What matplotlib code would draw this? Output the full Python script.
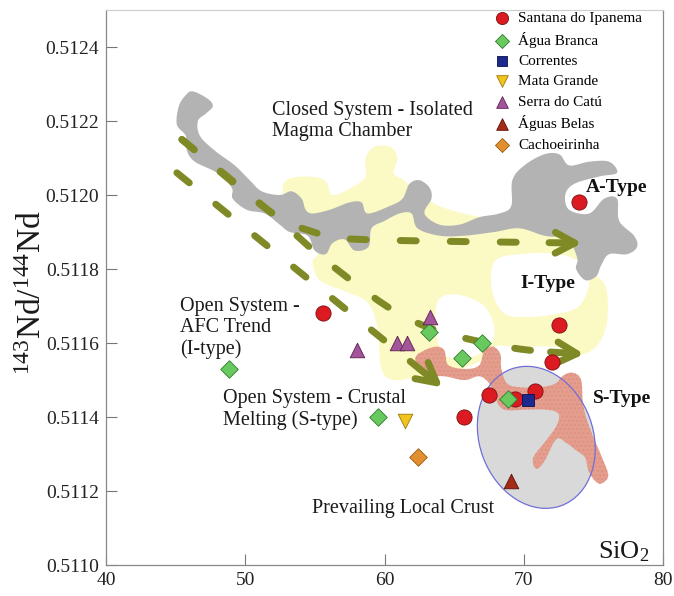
import numpy as np
import matplotlib
matplotlib.use("Agg")
import matplotlib.pyplot as plt
from matplotlib.patches import Polygon, Ellipse

plt.rcParams["font.family"] = ["Liberation Serif", "DejaVu Serif"]
plt.rcParams["mathtext.fontset"] = "custom"
plt.rcParams["mathtext.rm"] = "Liberation Serif"
plt.rcParams["mathtext.it"] = "Liberation Serif:italic"

# --- samples: SiO2 (wt%) vs 143Nd/144Nd ---
santana_sio2 = [55.6, 65.7, 67.5, 69.4, 70.8, 72.0, 72.5, 74.0]
santana_nd = [0.51168, 0.51140, 0.51146, 0.51145, 0.51147, 0.51155, 0.51165, 0.51198]
agua_branca_sio2 = [48.8, 59.5, 63.2, 65.6, 67.0, 68.9]
agua_branca_nd = [0.51153, 0.51140, 0.51163, 0.51156, 0.51160, 0.51145]
correntes_sio2 = [70.3]
correntes_nd = [0.511446]
mata_grande_sio2 = [61.5]
mata_grande_nd = [0.511389]
serra_catu_sio2 = [58.0, 60.9, 61.6, 63.3]
serra_catu_nd = [0.51158, 0.51160, 0.51160, 0.51167]
aguas_belas_sio2 = [69.1]
aguas_belas_nd = [0.511227]
cachoeirinha_sio2 = [62.4]
cachoeirinha_nd = [0.511292]

xticks = [40, 50, 60, 70, 80]
yticks = [0.5110, 0.5112, 0.5114, 0.5116, 0.5118, 0.5120, 0.5122, 0.5124]

# --- field outlines (SiO2, Nd) ---
gray_x = [46.24, 47.31, 47.67, 47.17, 46.60, 46.74, 47.81, 49.25, 50.32, 51.18,
          52.47, 53.33, 54.05, 54.34, 54.84, 56.06, 57.49, 58.35, 58.78, 60.36,
          61.29, 61.79, 62.51, 63.23, 63.37, 62.87, 63.94, 65.38, 66.81, 68.24,
          69.10, 69.18, 70.04, 71.47, 72.55, 73.26, 74.70, 76.13, 76.70, 75.41,
          73.62, 72.98, 73.26, 74.70, 75.77, 76.70, 76.85, 77.92, 78.14, 77.42,
          76.13, 75.56, 75.20, 74.41, 73.76, 73.84, 73.12, 71.47, 69.68, 67.89,
          65.74, 63.94, 62.37, 61.94, 61.08, 60.00, 59.07, 58.85, 57.85, 57.13,
          56.27, 55.77, 54.98, 54.48, 53.19, 52.47, 51.40, 50.11, 49.10, 49.03,
          47.96, 46.38, 45.81, 45.73, 45.09, 45.23, 45.73]
gray_y = [0.51228, 0.51226, 0.51224, 0.51222, 0.51220, 0.51216, 0.51212, 0.51208, 0.51204, 0.51201,
          0.51200, 0.51201, 0.51199, 0.51196, 0.51195, 0.51196, 0.51198, 0.51198, 0.51195, 0.51197,
          0.51199, 0.51203, 0.51204, 0.51202, 0.51199, 0.51195, 0.51192, 0.51192, 0.51194, 0.51195,
          0.51197, 0.51204, 0.51208, 0.51211, 0.51211, 0.51208, 0.51209, 0.51209, 0.51206, 0.51205,
          0.51203, 0.51200, 0.51196, 0.51195, 0.51199, 0.51199, 0.51193, 0.51189, 0.51186, 0.51184,
          0.51184, 0.51181, 0.51178, 0.51177, 0.51180, 0.51183, 0.51188, 0.51189, 0.51191, 0.51190,
          0.51189, 0.51189, 0.51191, 0.51195, 0.51195, 0.51193, 0.51191, 0.51186, 0.51185, 0.51188,
          0.51187, 0.51184, 0.51185, 0.51189, 0.51190, 0.51192, 0.51195, 0.51196, 0.51199, 0.51202,
          0.51206, 0.51209, 0.51212, 0.51216, 0.51219, 0.51224, 0.51227]

yellow_x = [52.97, 54.27, 55.70, 56.27, 57.63, 58.64, 58.64, 59.28, 60.43, 60.93,
            60.65, 61.36, 63.94, 68.24, 72.55, 74.34, 75.05, 75.91, 75.99, 75.41,
            74.34, 73.12, 72.19, 69.68, 67.89, 66.81, 65.38, 63.94, 62.51, 60.72,
            59.78, 59.50, 58.78, 57.13, 55.34, 54.84, 55.20, 53.91, 53.05, 52.69]
yellow_y = [0.51204, 0.51205, 0.51204, 0.51200, 0.51202, 0.51205, 0.51210, 0.51213, 0.51213, 0.51210,
            0.51206, 0.51204, 0.51197, 0.51193, 0.51190, 0.51185, 0.51179, 0.51175, 0.51166, 0.51160,
            0.51157, 0.51158, 0.51159, 0.51159, 0.51159, 0.51155, 0.51153, 0.51152, 0.51151, 0.51150,
            0.51153, 0.51164, 0.51171, 0.51174, 0.51177, 0.51182, 0.51185, 0.51195, 0.51197, 0.51201]

gap_itype_x = [67.89, 69.68, 72.55, 74.34, 74.70, 73.98, 72.55, 70.39, 68.60, 67.74]
gap_itype_y = [0.51182, 0.51184, 0.51184, 0.51181, 0.51176, 0.51170, 0.51168, 0.51167, 0.51168, 0.51174]
gap_mid_x = [63.94, 65.38, 67.17, 67.89, 67.53, 66.09, 64.66, 63.94, 63.66]
gap_mid_y = [0.51172, 0.51173, 0.51170, 0.51164, 0.51159, 0.51156, 0.51156, 0.51159, 0.51166]

stype_x = [62.22, 62.87, 63.73, 64.30, 64.59, 65.88, 66.81, 67.17, 67.81, 68.32,
           68.39, 68.82, 69.82, 71.11, 72.26, 72.76, 73.48, 74.12, 74.27, 74.84,
           75.63, 76.06, 75.41, 74.70, 74.41, 73.76, 73.05, 72.33, 71.47, 70.90,
           70.68, 71.68, 72.40, 72.47, 71.54, 70.18, 68.60, 67.96, 67.53, 66.81,
           65.74, 64.30, 63.23, 62.51]
stype_y = [0.51156, 0.51158, 0.51159, 0.51158, 0.51154, 0.51153, 0.51154, 0.51158, 0.51159, 0.51157,
           0.51153, 0.51149, 0.51148, 0.51148, 0.51149, 0.51151, 0.51152, 0.51150, 0.51143, 0.51136,
           0.51129, 0.51124, 0.51122, 0.51125, 0.51129, 0.51131, 0.51133, 0.51134, 0.51128, 0.51126,
           0.51129, 0.51134, 0.51138, 0.51141, 0.51142, 0.51142, 0.51142, 0.51145, 0.51149, 0.51151,
           0.51150, 0.51151, 0.51151, 0.51152]

crust_center = (70.9, 0.511345)

# --- evolution trends ---
closed_x = [45.45, 51.61, 54.91, 58.21, 74.19]
closed_y = [0.51215, 0.51196, 0.51190, 0.51188, 0.51187]
afc_x = [45.09, 64.16]
afc_y = [0.51206, 0.51148]
melting_x = [45.45, 51.61, 56.20, 62.01, 68.67, 74.34]
melting_y = [0.51215, 0.51196, 0.51181, 0.51166, 0.51159, 0.51157]

OLIVE = "#7f8a26"


def catmull(xs, ys, closed=True, n=12):
    p = np.column_stack([xs, ys]).astype(float)
    if closed:
        p = np.vstack([p[-1], p, p[0], p[1]])
    else:
        p = np.vstack([p[0], p, p[-1]])
    t = np.linspace(0, 1, n, endpoint=False)[:, None]
    out = []
    for i in range(1, len(p) - 2):
        p0, p1, p2, p3 = p[i - 1], p[i], p[i + 1], p[i + 2]
        out.append(0.5 * (2 * p1 + (-p0 + p2) * t
                          + (2 * p0 - 5 * p1 + 4 * p2 - p3) * t ** 2
                          + (-p0 + 3 * p1 - 3 * p2 + p3) * t ** 3))
    if not closed:
        out.append(p[-2][None])
    return np.vstack(out)


fig = plt.figure(figsize=(6.74, 5.96), dpi=100)
ax = fig.add_axes([106 / 674, 31 / 596, 557 / 674, 555 / 596])
ax.set_xlim(40, 80)
ax.set_ylim(0.5110, 0.5125)

# fields
ax.add_patch(Polygon(catmull(yellow_x, yellow_y), closed=True, fc="#fbf9c4", ec="none", zorder=1))
for gx, gy in [(gap_itype_x, gap_itype_y), (gap_mid_x, gap_mid_y)]:
    ax.add_patch(Polygon(catmull(gx, gy), closed=True, fc="white", ec="none", zorder=1.5))
ax.add_patch(Polygon(catmull(gray_x, gray_y), closed=True, fc="#b3b3b3", ec="none", zorder=2))

# prevailing local crust ellipse (axes fraction keeps it round on screen)
cx, cy = ax.transAxes.inverted().transform(ax.transData.transform(crust_center))
ell = dict(xy=(cx, cy), width=0.262, height=0.204, angle=110, transform=ax.transAxes)
ax.add_patch(Ellipse(fc="#d9d9d9", ec="none", zorder=2.5, **ell))
ax.add_patch(Polygon(catmull(stype_x, stype_y), closed=True, fc="#e59e8d", ec="#db9282",
                     lw=0, hatch="....", zorder=3))
ax.add_patch(Ellipse(fc="none", ec="#6f6fd8", lw=0.9, zorder=3.2, **ell))

# dashed trend arrows
for tx, ty, curved in [(closed_x, closed_y, True), (afc_x, afc_y, False),
                       (melting_x, melting_y, True)]:
    if curved:
        path = catmull(tx, ty, closed=False, n=30)
    else:
        s = np.linspace(0, 1, 60)[:, None]
        a, b = np.array([tx[0], ty[0]]), np.array([tx[1], ty[1]])
        path = a + s * (b - a)
    disp = ax.transData.transform(path)
    seg = np.hypot(*np.diff(disp, axis=0).T)
    back = np.cumsum(seg[::-1])
    k = len(path) - 1 - np.searchsorted(back, 34)
    ax.plot(path[:k + 1, 0], path[:k + 1, 1], color=OLIVE, lw=5,
            ls=(0, (2.3, 4.9)), dash_capstyle="round", zorder=4)
    ax.annotate("", xy=path[-1], xytext=path[k],
                arrowprops=dict(arrowstyle="->,head_length=1.4,head_width=0.75",
                                color=OLIVE, lw=5, shrinkA=0, shrinkB=0,
                                capstyle="round", joinstyle="round"),
                zorder=4)

# samples
mk = dict(linewidths=0.6, zorder=6)
ax.scatter(santana_sio2, santana_nd, s=120, marker="o", c="#dc1a22", edgecolors="#7a1010",
           label="Santana do Ipanema", **mk)
ax.scatter(agua_branca_sio2, agua_branca_nd, s=80, marker="D", c="#67c95e", edgecolors="#2f7a2f",
           label="Água Branca", **mk)
ax.scatter(correntes_sio2, correntes_nd, s=80, marker="s", c="#1c2a8e", edgecolors="#0a1050",
           label="Correntes", **mk)
ax.scatter(mata_grande_sio2, mata_grande_nd, s=110, marker="v", c="#f2c31a", edgecolors="#9a7a10",
           label="Mata Grande", **mk)
ax.scatter(serra_catu_sio2, serra_catu_nd, s=110, marker="^", c="#a3559a", edgecolors="#5a2050",
           label="Serra do Catú", **mk)
ax.scatter(aguas_belas_sio2, aguas_belas_nd, s=110, marker="^", c="#a32b18", edgecolors="#5a1008",
           label="Águas Belas", **mk)
ax.scatter(cachoeirinha_sio2, cachoeirinha_nd, s=80, marker="D", c="#e2902f", edgecolors="#9a5a10",
           label="Cachoeirinha", **mk)

# labels on the diagram
txt = dict(fontsize=14.5, color="#1a1a1a", zorder=7)
ax.text(51.9, 0.51220, "Closed System - Isolated\nMagma Chamber", ha="left", va="center",
        linespacing=1.2, **txt)
ax.text(45.3, 0.51164, "Open System -\nAFC Trend\n(I-type)", ha="left", va="center",
        linespacing=1.15, **txt)
ax.text(48.39, 0.51142, "Open System - Crustal\nMelting (S-type)", ha="left", va="center",
        linespacing=1.15, **txt)
ax.text(54.77, 0.511154, "Prevailing Local Crust", ha="left", va="center", **txt)
bold = dict(fontsize=14, fontweight="bold", color="#111111", ha="center", va="center", zorder=7)
ax.text(76.7, 0.51202, "A-Type", **bold)
ax.text(71.76, 0.51176, "I-Type", **bold)
ax.text(77.06, 0.51145, "S-Type", **bold)
ax.text(77.2, 0.511035, r"$\mathregular{SiO_2}$", fontsize=19, ha="center", va="center",
        color="#1a1a1a", zorder=7)

# axes styling
ax.set_xticks(xticks)
ax.set_yticks(yticks)
ax.set_yticklabels([f"{v:.4f}" for v in yticks])
ax.tick_params(direction="in", length=8, width=0.8, color="#777777", labelsize=14,
               labelcolor="#222222", pad=5)
for side in ["left", "bottom", "right"]:
    ax.spines[side].set_color("#888888")
    ax.spines[side].set_linewidth(0.9)
ax.spines["top"].set_color("#cccccc")
ax.set_ylabel(r"$\mathregular{^{143}Nd/^{144}Nd}$", fontsize=24, color="#1a1a1a")
ax.yaxis.set_label_coords(-0.105, 0.49)

ax.legend(loc="upper left", bbox_to_anchor=(0.70, 0.998), frameon=False, fontsize=11,
          markerscale=0.8, scatterpoints=1, handlelength=0.8, handletextpad=0.65,
          labelspacing=0.44, borderpad=0, borderaxespad=0)

fig.savefig("out.png", dpi=100)
